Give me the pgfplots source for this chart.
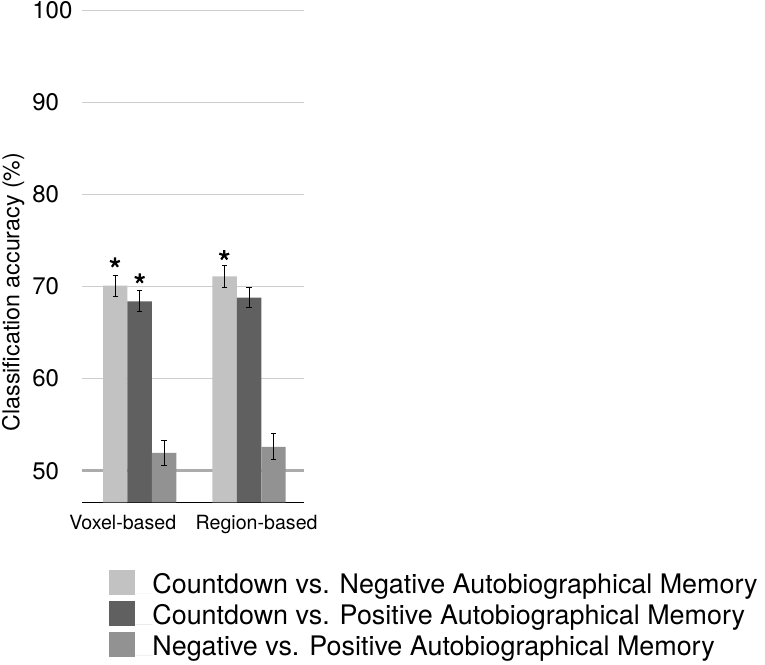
\documentclass[border=0pt]{standalone}
\usepackage{fontspec}
\setmainfont{TeX Gyre Heros}
\usepackage{pgfplots}
\pgfplotsset{compat=1.18}

\definecolor{barA}{RGB}{194,194,194}
\definecolor{barB}{RGB}{96,96,96}
\definecolor{barC}{RGB}{146,146,146}
\definecolor{gridc}{RGB}{205,205,205}
\definecolor{chance}{RGB}{172,172,172}

\begin{document}
\begin{tikzpicture}
\useasboundingbox (0,0) rectangle (382.5pt,-332pt);
\begin{axis}[
  at={(41pt,-251.15pt)}, anchor=south west,
  scale only axis, width=111pt, height=246pt,
  xmin=-0.527, xmax=1.502, ymin=46.57, ymax=100,
  axis x line*=bottom, axis y line*=left,
  y axis line style={draw=none},
  x axis line style={black, line width=0.5pt, -},
  tick style={draw=none},
  xtick={-0.154,1.069}, xticklabels={Voxel-based, Region-based},
  ytick={50,60,...,100},
  ymajorgrids, major grid style={gridc, line width=0.6pt},
  /pgf/number format/assume math mode=true,
  yticklabel style={font=\fontsize{12}{14}\selectfont, anchor=west, inner sep=0pt, xshift=-25pt},
  xticklabel style={font=\fontsize{9.8}{11}\selectfont, yshift=1.5pt},
  ylabel={Classification accuracy (\%)},
  ylabel style={font=\fontsize{11.6}{13}\selectfont, at={(axis description cs:-0.31,0.4274)}, anchor=center},
  ybar, bar width=0.223,
  legend cell align=left,
  legend style={at={(axis description cs:0.1216,-0.137)}, anchor=north west,
    draw=none, fill=none, inner sep=0pt, row sep=0pt, column sep=0pt,
    font=\fontsize{13.45}{15}\selectfont,
    cells={anchor=base west},
    nodes={inner sep=0pt, text height=11.8pt, text depth=3.7pt}},
  legend image code/.code={\fill[#1] (0pt,-0.85pt) rectangle (13pt,11.65pt); \path (13pt,0pt) -- (21.5pt,0pt);},
  error bars/error bar style={black, line width=0.5pt},
  error bars/error mark options={rotate=90, mark size=1.3pt, black, line width=0.5pt},
]
% chance level
\addplot[sharp plot, chance, line width=1.5pt, forget plot] coordinates {(-0.527,50) (1.502,50)};

\addplot[bar shift=-0.223, fill=barA, draw=none,
  error bars/.cd, y dir=both, y explicit]
  coordinates {(0,70.1) +- (0,1.15) (1,71.1) +- (0,1.15)};
\addlegendentry{Countdown vs. Negative Autobiographical Memory}

\addplot[bar shift=0, fill=barB, draw=none,
  error bars/.cd, y dir=both, y explicit]
  coordinates {(0,68.4) +- (0,1.15) (1,68.8) +- (0,1.1)};
\addlegendentry{Countdown vs. Positive Autobiographical Memory}

\addplot[bar shift=0.223, fill=barC, draw=none,
  error bars/.cd, y dir=both, y explicit]
  coordinates {(0,51.95) +- (0,1.33) (1,52.6) +- (0,1.4)};
\addlegendentry{Negative vs. Positive Autobiographical Memory}

% significance stars
\addplot[only marks, mark=star, mark size=2.6pt, mark options={black, line width=1.1pt}, forget plot]
  coordinates {(-0.226,72.6) (0,70.87) (0.773,73.4)};
\end{axis}
\end{tikzpicture}
\end{document}
